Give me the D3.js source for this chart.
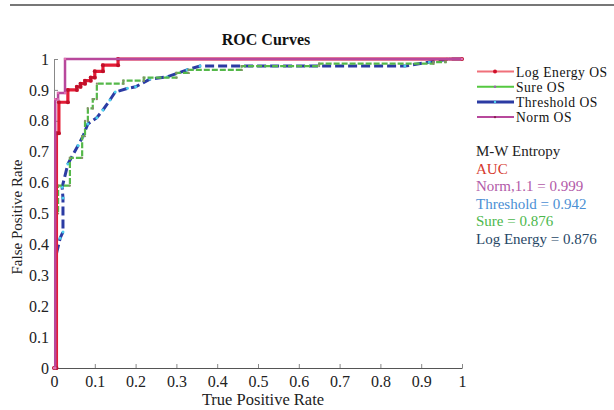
<!DOCTYPE html>
<html>
<head>
<meta charset="utf-8">
<script src="https://cdn.jsdelivr.net/npm/d3@7"></script>
<style>
  body { margin: 0; background: #fff; }
  text { font-family: "Liberation Serif", serif; }
</style>
</head>
<body>
<div id="chart"></div>
<script>
// ROC points, [fpr, tpr]
const normOS = [[0,0],[0.003,0],[0.003,0.87],[0.01,0.87],[0.01,0.89],[0.027,0.89],[0.027,1],[1,1]];
const logEnergyOS = [[0,0],[0.006,0],[0.006,0.76],[0.012,0.76],[0.012,0.86],[0.034,0.86],[0.034,0.9],
  [0.056,0.9],[0.056,0.91],[0.065,0.91],[0.065,0.92],[0.076,0.92],[0.076,0.93],[0.09,0.93],[0.09,0.94],
  [0.1,0.94],[0.1,0.96],[0.12,0.96],[0.12,0.98],[0.157,0.98],[0.157,1],[1,1]];
const sureOS = [[0,0],[0.004,0],[0.004,0.5],[0.01,0.5],[0.01,0.59],[0.039,0.59],[0.039,0.68],[0.069,0.68],
  [0.069,0.75],[0.076,0.75],[0.076,0.8],[0.083,0.8],[0.083,0.84],[0.095,0.84],[0.095,0.87],[0.105,0.87],
  [0.105,0.92],[0.17,0.92],[0.17,0.93],[0.22,0.93],[0.22,0.94],[0.3,0.94],[0.3,0.955],[0.33,0.955],
  [0.33,0.965],[0.46,0.965],[0.46,0.977],[0.65,0.977],[0.65,0.985],[0.93,0.985],[0.93,0.99],[0.96,0.99],
  [0.96,1],[1,1]];
const thresholdOS = [[0,0],[0.006,0],[0.006,0.37],[0.015,0.42],[0.022,0.44],[0.022,0.55],[0.02,0.585],
  [0.034,0.66],[0.059,0.72],[0.071,0.75],[0.083,0.79],[0.105,0.81],[0.12,0.835],[0.137,0.867],[0.15,0.893],
  [0.18,0.905],[0.2,0.91],[0.235,0.935],[0.277,0.942],[0.326,0.965],[0.358,0.977],[0.86,0.977],
  [0.92,0.99],[0.97,1],[1,1]];

const ticks = [0,0.1,0.2,0.3,0.4,0.5,0.6,0.7,0.8,0.9,1];
const legendNames = ["Log Energy OS","Sure OS","Threshold OS","Norm OS"];
const aucLines = ["M-W Entropy","AUC","Norm,1.1 = 0.999","Threshold = 0.942","Sure = 0.876","Log Energy = 0.876"];

const W = 614, H = 410;
const svg = d3.select("#chart").append("svg").attr("width", W).attr("height", H);

// page rule on top
svg.append("line").attr("x1", 10).attr("x2", 614).attr("y1", 5).attr("y2", 5)
  .attr("stroke", "#777").attr("stroke-width", 2);

const x = d3.scaleLinear().domain([0, 1]).range([54, 462]);
const y = d3.scaleLinear().domain([0, 1]).range([368, 59]);
const fmt = d => d === 0 || d === 1 ? String(d) : d.toFixed(1);

// axes, ticks pointing inward
svg.append("g").attr("transform", "translate(0,368)")
  .call(d3.axisBottom(x).tickValues(ticks).tickFormat(fmt).tickSizeInner(-4).tickSizeOuter(0).tickPadding(8))
  .call(g => g.select(".domain").attr("stroke", "#555"))
  .call(g => g.selectAll(".tick line").attr("stroke", "#888"))
  .call(g => g.selectAll("text").attr("font-size", 16).attr("fill", "#222")
    .attr("font-family", "Liberation Serif"));

svg.append("g").attr("transform", "translate(54,0)")
  .call(d3.axisLeft(y).tickValues(ticks).tickFormat(fmt).tickSizeInner(-4).tickSizeOuter(0).tickPadding(5))
  .call(g => g.select(".domain").attr("stroke", "#888"))
  .call(g => g.selectAll(".tick line").attr("stroke", "#888"))
  .call(g => g.selectAll("text").attr("font-size", 16).attr("fill", "#222")
    .attr("font-family", "Liberation Serif"));

const line = d3.line().x(d => x(d[0])).y(d => y(d[1]));

const series = [
  { data: thresholdOS, color: "#2b3ba3", width: 3, dash: "9,4", mark: "#4ccfee", r: 1.5 },
  { data: sureOS, color: "#55b84a", width: 2.2, dash: "6,2", mark: "#8a8a6a", r: 1.1 },
  { data: logEnergyOS, color: "#e41d36", width: 3.2, dash: null, mark: "#c0102a", r: 2 },
  { data: normOS, color: "#b8489c", width: 2.5, dash: null, mark: "#e070b0", r: 1.2 }
];

series.forEach(s => {
  svg.append("path").datum(s.data).attr("d", line)
    .attr("fill", "none").attr("stroke", s.color).attr("stroke-width", s.width)
    .attr("stroke-dasharray", s.dash);
  svg.append("g").selectAll("circle").data(s.data).enter().append("circle")
    .attr("cx", d => x(d[0])).attr("cy", d => y(d[1])).attr("r", s.r)
    .attr("fill", s.mark);
});

// title
svg.append("text").attr("x", 266).attr("y", 45).attr("text-anchor", "middle")
  .attr("font-size", 16).attr("font-weight", "bold").attr("fill", "#111").text("ROC Curves");

// axis labels
svg.append("text").attr("x", 263).attr("y", 405).attr("text-anchor", "middle")
  .attr("font-size", 16.5).attr("fill", "#222").text("True Positive Rate");
svg.append("text").attr("transform", "translate(22,217) rotate(-90)").attr("text-anchor", "middle")
  .attr("font-size", 15).attr("fill", "#222").text("False Positive Rate");

// legend
const legendColors = ["#f0707a", "#55c840", "#2b3ba3", "#b8489c"];
const legendMarks = ["#d0102a", "#9a60b0", "#4ccfee", "#8a2050"];
const lg = svg.append("g").selectAll("g").data(legendNames).enter().append("g")
  .attr("transform", (d, i) => "translate(477," + (71.5 + i * 15.2) + ")");
lg.append("line").attr("x1", 0).attr("x2", 37).attr("y1", 0).attr("y2", 0)
  .attr("stroke", (d, i) => legendColors[i]).attr("stroke-width", (d, i) => i === 2 ? 3 : 2);
lg.append("circle").attr("cx", 18).attr("cy", 0).attr("r", (d, i) => i === 0 ? 2 : 1.2)
  .attr("fill", (d, i) => legendMarks[i]);
lg.append("text").attr("x", 39).attr("y", 5).attr("font-size", 13.6).attr("letter-spacing", 0.5)
  .attr("fill", "#111").text(d => d);

// AUC annotation
const aucColors = ["#222", "#d63a2e", "#b25aa8", "#4b8fd4", "#4cb84c", "#274766"];
svg.append("g").selectAll("text").data(aucLines).enter().append("text")
  .attr("x", 476).attr("y", (d, i) => 156 + i * 17.6)
  .attr("font-size", 15).attr("fill", (d, i) => aucColors[i]).text(d => d);
</script>
</body>
</html>
